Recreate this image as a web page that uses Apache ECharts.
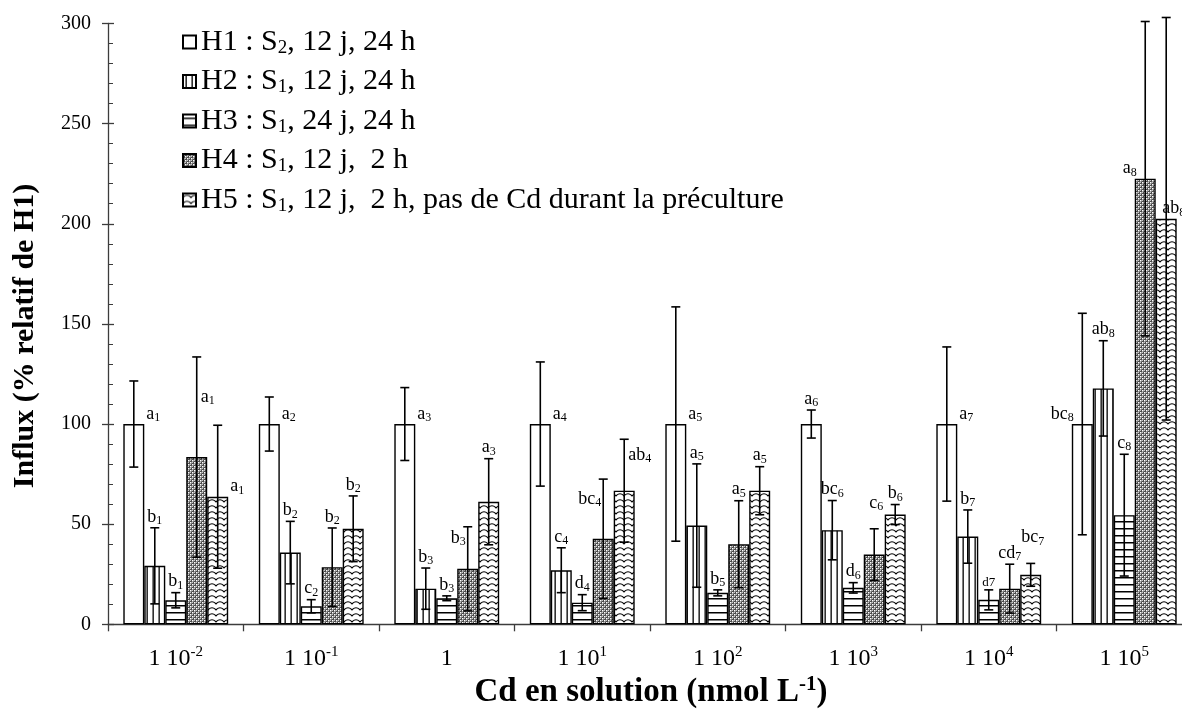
<!DOCTYPE html>
<html><head><meta charset="utf-8">
<script src="https://cdn.jsdelivr.net/npm/echarts@6/dist/echarts.min.js"></script>
<style>html,body{margin:0;padding:0;background:#fff;overflow:hidden}#c{width:1192px;height:718px}</style>
</head><body><div id="c"></div>
<script>
// ---------- data ----------
const categories = ['1 10^-2', '1 10^-1', '1', '1 10^1', '1 10^2', '1 10^3', '1 10^4', '1 10^5'];
const seriesNames = [
  'H1 : S_2, 12 j, 24 h',
  'H2 : S_1, 12 j, 24 h',
  'H3 : S_1, 24 j, 24 h',
  'H4 : S_1, 12 j,  2 h',
  'H5 : S_1, 12 j,  2 h, pas de Cd durant la préculture'
];
const h1 = [100, 100, 100, 100, 100, 100, 100, 100];
const h1Err = [21.5, 13.5, 18.2, 31, 58.5, 7, 38.5, 55.3];
const h2 = [29.2, 35.8, 17.8, 27, 49.3, 47, 43.8, 117.8];
const h2Err = [19, 15.6, 10.3, 11.2, 30.8, 14.8, 13.3, 23.8];
const h3 = [12, 9, 13, 10.8, 15.7, 18.2, 12.2, 54.5];
const h3Err = [3.8, 3.3, 1.2, 4, 1.5, 2.6, 5, 30.4];
const h4 = [83.5, 28.5, 27.7, 42.7, 40, 34.8, 17.8, 222.5];
const h4Err = [50, 19.6, 21, 29.8, 21.7, 12.9, 12.2, 78.5];
const h5 = [63.7, 47.7, 61.2, 66.7, 66.7, 54.8, 24.7, 202.5];
const h5Err = [35.7, 16.4, 21.5, 25.7, 12, 5, 5.7, 100.5];
const h1Letters = ['a_1', 'a_2', 'a_3', 'a_4', 'a_5', 'a_6', 'a_7', 'bc_8'];
const h2Letters = ['b_1', 'b_2', 'b_3', 'c_4', 'a_5', 'bc_6', 'b_7', 'ab_8'];
const h3Letters = ['b_1', 'c_2', 'b_3', 'd_4', 'b_5', 'd_6', 'd7', 'c_8'];
const h4Letters = ['a_1', 'b_2', 'b_3', 'bc_4', 'a_5', 'c_6', 'cd_7', 'a_8'];
const h5Letters = ['a_1', 'b_2', 'a_3', 'ab_4', 'a_5', 'b_6', 'bc_7', 'ab_8'];
const yTicks = { min: 0, max: 300, step: 50 };

// ---------- label placement (style, not data) ----------
const h1Place = ['r', 'r', 'r', 'r', 'r', 't', 'r', 'l'];
const h2Place = ['t', 't', 't', 't', 't', 't', 't', 't'];
const h3Place = ['t', 't', 't', 't', 't', 't', 't', 't'];
const h4Place = ['er', 't', 'el', 'el', 't', 'T', 't', 'l'];
const h5Place = ['r', 't', 't', 'er', 't', 't', 'T', 'in'];

const values = [h1, h2, h3, h4, h5];
const errs = [h1Err, h2Err, h3Err, h4Err, h5Err];
const letters = [h1Letters, h2Letters, h3Letters, h4Letters, h5Letters];
const places = [h1Place, h2Place, h3Place, h4Place, h5Place];

const FONT = "'Liberation Serif', 'Times New Roman', serif";
const GAP_FRAC = 0.226;

// ---------- patterns ----------
function tile(w, h, draw) {
  const c = document.createElement('canvas');
  c.width = w; c.height = h;
  const ctx = c.getContext('2d');
  ctx.fillStyle = '#fff'; ctx.fillRect(0, 0, w, h);
  draw(ctx);
  return { image: c, repeat: 'repeat' };
}
const patterns = [
  '#ffffff',
  tile(6, 4, ctx => { ctx.fillStyle = '#000'; ctx.fillRect(2.5, 0, 1.3, 4); }),
  tile(4, 7, ctx => { ctx.fillStyle = '#000'; ctx.fillRect(0, 3, 4, 1.5); }),
  tile(4, 4, ctx => {
    ctx.fillStyle = '#4a4a4a'; ctx.fillRect(0, 0, 4, 4);
    ctx.fillStyle = '#fff'; ctx.fillRect(0, 0, 1.5, 1.5); ctx.fillRect(2, 2, 1.5, 1.5);
    ctx.fillStyle = '#c8c8c8'; ctx.fillRect(2, 0, 1, 1); ctx.fillRect(0, 2, 1, 1);
  }),
  tile(8, 6, ctx => {
    ctx.strokeStyle = '#000'; ctx.lineWidth = 1.2;
    ctx.beginPath(); ctx.moveTo(-1, 5); ctx.quadraticCurveTo(4, -1.5, 9, 5); ctx.stroke();
  })
];

// ---------- rich text helpers ----------
function richify(str, m, s, p) {
  let out = '';
  const re = /_(\w)|\^(-?\d+)/g;
  let last = 0, mt;
  while ((mt = re.exec(str)) !== null) {
    if (mt.index > last) out += '{' + m + '|' + str.slice(last, mt.index) + '}';
    if (mt[1] !== undefined) out += '{' + s + '|' + mt[1] + '}';
    else out += '{' + p + '|' + mt[2] + '}';
    last = re.lastIndex;
  }
  if (last < str.length) out += '{' + m + '|' + str.slice(last) + '}';
  return out;
}

const labelRich = {
  m: { fontFamily: FONT, fontSize: 18, lineHeight: 20, color: '#000' },
  s: { fontFamily: FONT, fontSize: 12, lineHeight: 20, verticalAlign: 'bottom', color: '#000' },
  k: { fontFamily: FONT, fontSize: 13, lineHeight: 20, verticalAlign: 'bottom', color: '#000' }
};

// ---------- custom series data ----------
const errData = [];
for (let s = 0; s < 5; s++) {
  for (let c = 0; c < categories.length; c++) {
    errData.push([c, s, values[s][c], errs[s][c]]);
  }
}

function renderErr(params, api) {
  const c = api.value(0), s = api.value(1), v = api.value(2), e = api.value(3);
  const catW = api.size([1, 0])[0];
  const barW = catW * (1 - GAP_FRAC) / 5;
  const cx = api.coord([c, 0])[0];
  const bx = cx - barW * 2.5 + barW * (s + 0.5);
  const yTop = api.coord([c, v + e])[1];
  const yBot = api.coord([c, v - e])[1];
  const yVal = api.coord([c, v])[1];
  const yMid = api.coord([c, v + e / 2])[1];
  const cap = 4.5;
  const ls = { stroke: '#000', lineWidth: 1.6 };
  const children = [
    { type: 'line', shape: { x1: bx, y1: yTop, x2: bx, y2: yBot }, style: ls },
    { type: 'line', shape: { x1: bx - cap, y1: yTop, x2: bx + cap, y2: yTop }, style: ls },
    { type: 'line', shape: { x1: bx - cap, y1: yBot, x2: bx + cap, y2: yBot }, style: ls }
  ];
  const txt = letters[s][c];
  const pl = places[s][c];
  let x, y, align;
  if (pl === 't') { x = bx; y = yTop - 1; align = 'center'; }
  else if (pl === 'T') { x = bx + 2; y = yTop - 16; align = 'center'; }
  else if (pl === 'r') { x = bx + barW / 2 + 2; y = yVal; align = 'left'; }
  else if (pl === 'l') { x = bx - barW / 2 + 2; y = yVal; align = 'right'; }
  else if (pl === 'er') { x = bx + 4; y = yMid; align = 'left'; }
  else if (pl === 'el') { x = bx - 2; y = yMid; align = 'right'; }
  else { x = bx - 4; y = yVal; align = 'left'; }
  const rt = txt.indexOf('_') >= 0 ? richify(txt, 'm', 's', 's') : '{k|' + txt + '}';
  children.push({
    type: 'text',
    style: { x: x, y: y, text: rt, rich: labelRich, align: align, verticalAlign: 'bottom' }
  });
  return { type: 'group', children: children };
}

// ---------- chart ----------
const chart = echarts.init(document.getElementById('c'), null, { renderer: 'canvas' });

const barSeries = seriesNames.map((n, i) => ({
  name: n,
  type: 'bar',
  data: values[i],
  barGap: '0%',
  barCategoryGap: (GAP_FRAC * 100) + '%',
  itemStyle: { color: patterns[i], borderColor: '#000', borderWidth: 1.4 },
  emphasis: { disabled: true },
  animation: false
}));

const axisCol = '#3c3c3c';

chart.setOption({
  animation: false,
  backgroundColor: '#fff',
  grid: { left: 108, right: 0, top: 23.5, bottom: 93.7, containLabel: false },
  legend: {
    orient: 'vertical',
    left: 177,
    top: 22,
    itemWidth: 13,
    itemHeight: 13,
    itemGap: 9,
    icon: 'rect',
    data: seriesNames,
    selectedMode: false,
    formatter: n => richify(n, 'm', 's', 'p'),
    textStyle: {
      rich: {
        m: { fontFamily: FONT, fontSize: 30, lineHeight: 31, color: '#000' },
        s: { fontFamily: FONT, fontSize: 19, lineHeight: 31, verticalAlign: 'bottom', color: '#000' },
        p: { fontFamily: FONT, fontSize: 19, lineHeight: 31, verticalAlign: 'top', color: '#000' }
      }
    }
  },
  xAxis: {
    type: 'category',
    data: categories,
    axisLine: { lineStyle: { color: axisCol, width: 1.3 } },
    axisTick: { show: true, length: 7, interval: 0, lineStyle: { color: axisCol, width: 1.3 } },
    axisLabel: {
      interval: 0,
      margin: 20,
      formatter: v => richify(v, 'm', 's', 'p'),
      rich: {
        m: { fontFamily: FONT, fontSize: 24, lineHeight: 28, color: '#000' },
        p: { fontFamily: FONT, fontSize: 15, lineHeight: 28, verticalAlign: 'top', color: '#000' }
      }
    },
    splitLine: { show: false }
  },
  yAxis: [{
    type: 'value',
    min: yTicks.min, max: yTicks.max, interval: yTicks.step,
    axisLine: { show: true, lineStyle: { color: axisCol, width: 1.3 } },
    axisTick: { show: true, length: 6, lineStyle: { color: axisCol, width: 1.3 } },
    axisLabel: { margin: 17, fontFamily: FONT, fontSize: 20, color: '#000' },
    splitLine: { show: false }
  }, {
    type: 'value',
    position: 'left',
    min: yTicks.min, max: yTicks.max, interval: yTicks.step,
    axisLine: { show: false },
    axisTick: { show: true, inside: true, length: 6, lineStyle: { color: axisCol, width: 1.3 } },
    minorTick: { show: true, splitNumber: 5, length: 5, lineStyle: { color: axisCol, width: 1 } },
    axisLabel: { show: false },
    splitLine: { show: false }
  }],
  graphic: [
    {
      type: 'text', x: 25, y: 336, rotation: Math.PI / 2,
      style: { text: 'Influx (% relatif de H1)', font: "bold 30px " + FONT, fill: '#000', align: 'center', verticalAlign: 'middle' }
    },
    {
      type: 'text', x: 651, y: 692,
      style: {
        text: richify('Cd en solution (nmol L^-1', 'm', 's', 'p') + '{m|)}',
        rich: {
          m: { fontFamily: FONT, fontWeight: 'bold', fontSize: 33, lineHeight: 35, color: '#000' },
          p: { fontFamily: FONT, fontWeight: 'bold', fontSize: 21, lineHeight: 35, verticalAlign: 'top', color: '#000' }
        },
        align: 'center', verticalAlign: 'middle'
      }
    }
  ],
  series: barSeries.concat([{
    type: 'custom',
    name: 'err',
    renderItem: renderErr,
    data: errData,
    encode: { x: 0, y: 2 },
    clip: false,
    z: 5,
    silent: true,
    animation: false
  }])
});
</script>
</body></html>
